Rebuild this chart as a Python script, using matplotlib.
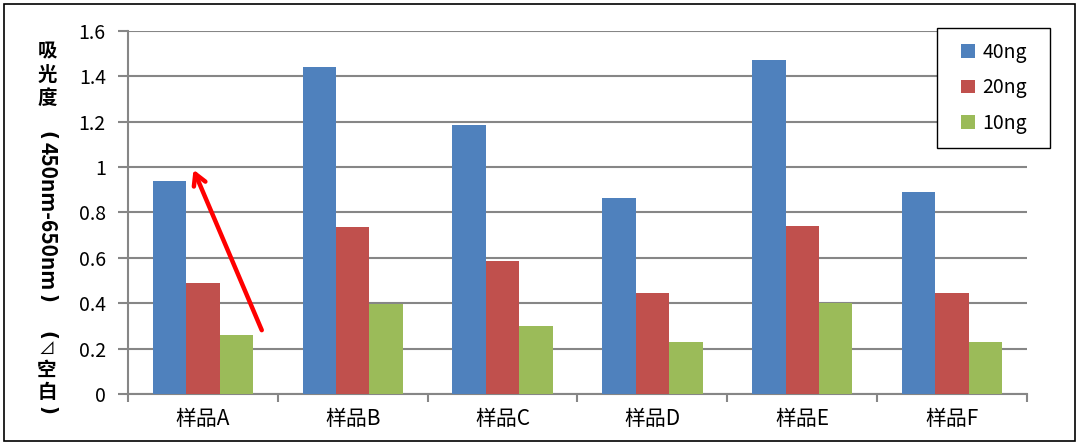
import matplotlib
matplotlib.use('Agg')
import matplotlib.pyplot as plt
import numpy as np
from matplotlib.patches import Rectangle

plt.rcParams['font.family'] = ['Noto Sans CJK SC', 'DejaVu Sans']

#------------------------------------------------------------------------------
# data

samples  = ['样品A', '样品B', '样品C', '样品D', '样品E', '样品F']
series   = ['40ng', '20ng', '10ng']
vals_40  = [0.94, 1.44, 1.185, 0.865, 1.47, 0.89]
vals_20  = [0.49, 0.735, 0.585, 0.445, 0.74, 0.445]
vals_10  = [0.26, 0.395, 0.30, 0.23, 0.40, 0.23]
colors   = ['#4F81BD', '#C0504D', '#9BBB59']
yticks   = [0, 0.2, 0.4, 0.6, 0.8, 1.0, 1.2, 1.4, 1.6]
ytick_labels = ['0', '0.2', '0.4', '0.6', '0.8', '1', '1.2', '1.4', '1.6']

#------------------------------------------------------------------------------
# plot

W, H = 1080, 445
fig = plt.figure(figsize=(W / 100, H / 100), dpi=100)
ax = fig.add_axes([128 / W, 1 - 394 / H, (1027 - 128) / W, (394 - 31) / H])

x = np.arange(len(samples))
w = 0.223
bars = []
for i, (vals, lab) in enumerate(zip([vals_40, vals_20, vals_10], series)):
    bars.append(ax.bar(x + (i - 1) * w, vals, width=w, color=colors[i], label=lab, zorder=3))

ax.set_xlim(-0.5, len(samples) - 0.5)
ax.set_ylim(0, 1.6)
ax.set_yticks(yticks)
ax.set_yticklabels(ytick_labels, fontsize=14)
ax.set_xticks(x)
ax.set_xticklabels(samples, fontsize=15)
ax.set_xticks(np.arange(-0.5, len(samples)), minor=True)
ax.tick_params(axis='x', which='major', length=0, pad=10)
ax.tick_params(axis='x', which='minor', length=6, width=1.5, color='#868686')
ax.tick_params(axis='y', length=7, width=1.5, color='#868686', pad=9)

ax.yaxis.grid(True, color='#868686', lw=1.5, zorder=0)
for s in ['top', 'right']:
    ax.spines[s].set_visible(False)
for s in ['left', 'bottom']:
    ax.spines[s].set_color('#868686')
    ax.spines[s].set_linewidth(1.5)

# red arrow
ax.annotate('', xy=(-0.07, 1.0), xytext=(0.40, 0.27),
            arrowprops=dict(arrowstyle='->,head_length=0.8,head_width=0.45',
                            color='#FF0000', lw=3.2), zorder=5)

# legend: white box with black border, entries centred inside
fig.patches.append(Rectangle((937 / W, 1 - 148 / H), 113 / W, 120 / H,
                             transform=fig.transFigure, facecolor='white',
                             edgecolor='black', lw=1.0, zorder=2))
fig.legend(handles=bars, labels=series, loc='center',
           bbox_to_anchor=(994 / W, 1 - 88 / H), fontsize=14, frameon=False,
           handlelength=0.7, handleheight=0.7, labelspacing=0.75,
           borderpad=0, handletextpad=0.4)

# vertical y label (stacked like Excel)
lx = 47 / W
def fy(py):
    return 1 - py / H
for ch, py in [('吸', 52), ('光', 75), ('度', 98), ('空', 370), ('白', 392)]:
    fig.text(lx, fy(py), ch, fontsize=14, fontweight='bold', ha='center', va='center')
for ch, py in [('(', 135), (')', 298), ('(', 335), (')', 410)]:
    fig.text(lx, fy(py), ch, fontsize=14, fontweight='bold', family='DejaVu Sans',
             rotation=-90, ha='center', va='center')
fig.text(lx, fy(216), '450nm-650nm', fontsize=15, fontweight='bold',
         rotation=-90, ha='center', va='center')
fig.text(lx, fy(349), '⊿', fontsize=12, ha='center', va='center')

# outer border
fig.patches.append(Rectangle((4 / W, 4 / H), 1071 / W, 437 / H,
                             transform=fig.transFigure, fill=False,
                             edgecolor='black', lw=1.2))

fig.savefig('out.png', dpi=100)
